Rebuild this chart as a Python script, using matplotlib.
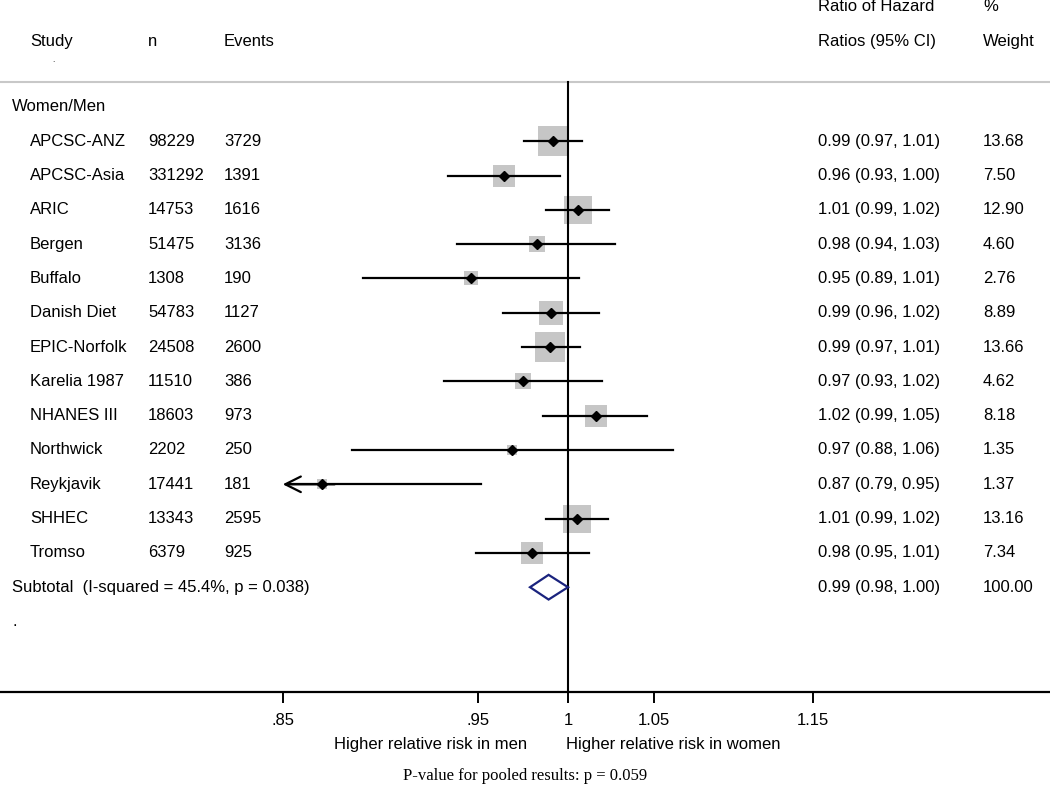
import numpy as np
import matplotlib
matplotlib.use("Agg")
import matplotlib.pyplot as plt
from matplotlib.patches import Polygon

# ==========================
# Data
# ==========================

studies = ["APCSC-ANZ", "APCSC-Asia", "ARIC", "Bergen", "Buffalo", "Danish Diet",
           "EPIC-Norfolk", "Karelia 1987", "NHANES III", "Northwick", "Reykjavik",
           "SHHEC", "Tromso"]
n_subjects = [98229, 331292, 14753, 51475, 1308, 54783, 24508, 11510, 18603,
              2202, 17441, 13343, 6379]
events = [3729, 1391, 1616, 3136, 190, 1127, 2600, 386, 973, 250, 181, 2595, 925]

# estimates as plotted (read off the marks)
hr = [0.9915, 0.9642, 1.0057, 0.9825, 0.9462, 0.9904, 0.9898, 0.9747, 1.016,
      0.9686, 0.869, 1.0051, 0.9797]
ci_lo = [0.9752, 0.934, 0.9876, 0.9387, 0.890, 0.9636, 0.974, 0.932, 0.9859,
         0.884, 0.79, 0.9876, 0.949]
ci_hi = [1.008, 0.9955, 1.0236, 1.027, 1.0063, 1.0178, 1.0069, 1.0196, 1.046,
         1.0616, 0.9516, 1.023, 1.012]

# as printed in the table column
ci_text = ["0.99 (0.97, 1.01)", "0.96 (0.93, 1.00)", "1.01 (0.99, 1.02)",
           "0.98 (0.94, 1.03)", "0.95 (0.89, 1.01)", "0.99 (0.96, 1.02)",
           "0.99 (0.97, 1.01)", "0.97 (0.93, 1.02)", "1.02 (0.99, 1.05)",
           "0.97 (0.88, 1.06)", "0.87 (0.79, 0.95)", "1.01 (0.99, 1.02)",
           "0.98 (0.95, 1.01)"]
weights = [13.68, 7.50, 12.90, 4.60, 2.76, 8.89, 13.66, 4.62, 8.18, 1.35, 1.37,
           13.16, 7.34]

pooled = 0.989
pooled_lo = 0.9786
pooled_hi = 1.0
pooled_text = "0.99 (0.98, 1.00)"
pooled_weight = "100.00"
subtotal_label = "Subtotal  (I-squared = 45.4%, p = 0.038)"

ticks = [0.85, 0.95, 1.0, 1.05, 1.15]
tick_labels = [".85", ".95", "1", "1.05", "1.15"]
x_min_clip = 0.85

# ==========================
# Figure
# ==========================

plt.rcParams['font.family'] = ['Liberation Sans', 'DejaVu Sans']
FS = 12

fig = plt.figure(figsize=(10.5, 7.9), dpi=100)
ax = fig.add_axes([0, 1 - 692 / 790, 1, 692 / 790])

ax.set_xscale("log")
ax.set_xlim(np.exp(-568 / 1755), np.exp((1050 - 568) / 1755))
row_h = 34.3
ax.set_ylim((692 - 107) / row_h, -107 / row_h)

for s in ["top", "left", "right"]:
    ax.spines[s].set_visible(False)
ax.spines["bottom"].set_linewidth(1.6)
ax.set_yticks([])
ax.minorticks_off()
ax.set_xticks(ticks)
ax.set_xticklabels(tick_labels, fontsize=FS)
ax.tick_params(axis="x", which="major", direction="out", length=8,
               width=1.4, pad=7)
ax.tick_params(axis="x", which="minor", length=0)

tr = ax.get_yaxis_transform()  # x in axes fraction, y in data

# header
sep_y = (82 - 107) / row_h
ax.axhline(sep_y, color="#c8c8c8", lw=1.5)
ax.text(30 / 1050, -1.92, "Study", transform=tr, fontsize=FS, va="center")
ax.text(52 / 1050, -1.36, ".", transform=tr, fontsize=6, va="center")
ax.text(148 / 1050, -1.92, "n", transform=tr, fontsize=FS, va="center")
ax.text(224 / 1050, -1.92, "Events", transform=tr, fontsize=FS, va="center")
ax.text(818 / 1050, -2.92, "Ratio of Hazard", transform=tr, fontsize=FS, va="center")
ax.text(818 / 1050, -1.92, "Ratios (95% CI)", transform=tr, fontsize=FS, va="center")
ax.text(983 / 1050, -2.92, "%", transform=tr, fontsize=FS, va="center")
ax.text(983 / 1050, -1.92, "Weight", transform=tr, fontsize=FS, va="center")

ax.text(12 / 1050, 0, "Women/Men", transform=tr, fontsize=FS, va="center")

# null line
ax.plot([1, 1], [sep_y, (692 - 107) / row_h], color="black", lw=1.5, zorder=2)

# ==========================
# Studies
# ==========================

for i, name in enumerate(studies):
    y = i + 1
    ax.text(30 / 1050, y, name, transform=tr, fontsize=FS, va="center")
    ax.text(148 / 1050, y, str(n_subjects[i]), transform=tr, fontsize=FS, va="center")
    ax.text(224 / 1050, y, str(events[i]), transform=tr, fontsize=FS, va="center")
    ax.text(818 / 1050, y, ci_text[i], transform=tr, fontsize=FS, va="center")
    ax.text(983 / 1050, y, f"{weights[i]:.2f}", transform=tr, fontsize=FS, va="center")

    ax.scatter([hr[i]], [y], s=32 * weights[i], marker="s", color="#c6c6c6",
               linewidths=0, zorder=1)

    if ci_lo[i] < x_min_clip:
        ax.plot([x_min_clip * 1.004, ci_hi[i]], [y, y], color="black", lw=1.6, zorder=3)
        ax.annotate("", xy=(x_min_clip, y), xytext=(x_min_clip * 1.03, y),
                    arrowprops=dict(arrowstyle="->", lw=1.6, color="black",
                                    mutation_scale=28, shrinkA=0, shrinkB=0),
                    zorder=3)
    else:
        ax.plot([ci_lo[i], ci_hi[i]], [y, y], color="black", lw=1.6, zorder=3)

    ax.plot([hr[i]], [y], marker="D", color="black", markersize=5.5, zorder=4)

# ==========================
# Pooled
# ==========================

yp = len(studies) + 1
ax.text(12 / 1050, yp, subtotal_label, transform=tr, fontsize=FS, va="center")
ax.text(818 / 1050, yp, pooled_text, transform=tr, fontsize=FS, va="center")
ax.text(983 / 1050, yp, pooled_weight, transform=tr, fontsize=FS, va="center")
dh = 0.36
diamond = Polygon([[pooled_lo, yp], [pooled, yp - dh], [pooled_hi, yp], [pooled, yp + dh]],
                  closed=True, fill=False, edgecolor="#1a237e", lw=1.6, zorder=5)
ax.add_patch(diamond)

ax.text(12 / 1050, yp + 1.0, ".", transform=tr, fontsize=FS, va="center")

# ==========================
# Bottom labels
# ==========================

fig.text(431 / 1050, 1 - 744 / 790, "Higher relative risk in men",
         ha="center", va="center", fontsize=FS)
fig.text(673 / 1050, 1 - 744 / 790, "Higher relative risk in women",
         ha="center", va="center", fontsize=FS)
fig.text(525 / 1050, 1 - 776 / 790, "P-value for pooled results: p = 0.059",
         ha="center", va="center", fontsize=FS, family=["Liberation Serif"])

fig.savefig("out.png", dpi=100)
